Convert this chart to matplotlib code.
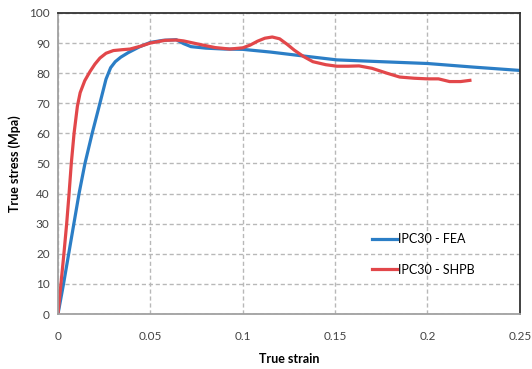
import matplotlib
matplotlib.use('Agg')
import matplotlib.pyplot as plt

# IPC30 - FEA (blue)
fea_strain = [0, 0.003, 0.0114, 0.0146, 0.0185, 0.0227, 0.026, 0.0285, 0.031, 0.034,
              0.038, 0.044, 0.05, 0.057, 0.064, 0.068, 0.072, 0.08, 0.09, 0.1,
              0.115, 0.13, 0.151, 0.175, 0.2, 0.225, 0.25]
fea_stress = [0, 10, 40, 50, 60, 70, 78, 81.8, 83.8, 85.3,
              86.8, 88.7, 90.2, 90.9, 91.1, 89.8, 88.8, 88.3, 88.0, 87.9,
              87.0, 85.9, 84.4, 83.8, 83.2, 82.0, 80.9]

# IPC30 - SHPB (red)
shpb_strain = [0, 0.0016, 0.0032, 0.0047, 0.006, 0.0072, 0.0087, 0.0105, 0.012, 0.0145,
               0.0173, 0.02, 0.0227, 0.026, 0.03, 0.035, 0.039, 0.045, 0.05, 0.058,
               0.064, 0.068, 0.077, 0.085, 0.093, 0.1, 0.104, 0.108, 0.112, 0.116,
               0.12, 0.124, 0.128, 0.133, 0.138, 0.145, 0.151, 0.157, 0.163, 0.17,
               0.178, 0.185, 0.193, 0.2, 0.206, 0.212, 0.218, 0.223]
shpb_stress = [0, 10, 20, 30, 40, 50, 60, 69, 73.5, 77.5,
               80.5, 83, 85, 86.6, 87.5, 87.8, 88.0, 89.0, 90.0, 90.9,
               91.0, 90.7, 89.5, 88.5, 88.0, 88.4, 89.3, 90.6, 91.6, 92.0,
               91.4, 89.6, 87.6, 85.5, 83.8, 82.8, 82.3, 82.3, 82.4, 81.6,
               80.0, 78.7, 78.3, 78.1, 78.1, 77.2, 77.2, 77.6]

x_ticks = [0, 0.05, 0.1, 0.15, 0.2, 0.25]
x_tick_labels = ['0', '0.05', '0.1', '0.15', '0.2', '0.25']
y_ticks = [0, 10, 20, 30, 40, 50, 60, 70, 80, 90, 100]

plt.rcParams['font.family'] = ['Lato', 'DejaVu Sans']

fig = plt.figure(figsize=(5.32, 3.69), dpi=100)
ax = fig.add_axes([0.109, 0.149, 0.868, 0.816])

ax.plot(fea_strain, fea_stress, color='#2b7ec6', linewidth=2.3, label='IPC30 - FEA')
ax.plot(shpb_strain, shpb_stress, color='#e2474a', linewidth=2.3, label='IPC30 - SHPB')

ax.set_xlim(0, 0.25)
ax.set_ylim(0, 100)
ax.set_xticks(x_ticks)
ax.set_xticklabels(x_tick_labels)
ax.set_yticks(y_ticks)
ax.tick_params(axis='both', length=0, labelsize=8.5, labelcolor='#444444')
ax.tick_params(axis='x', pad=12)
ax.tick_params(axis='y', pad=6)

ax.grid(True, color='#b8b8b8', linestyle=(0, (3, 2)), linewidth=1.0)

ax.spines['left'].set_color('#a0a0a0')
ax.spines['bottom'].set_color('#a0a0a0')
ax.spines['top'].set_color('#333333')
ax.spines['right'].set_color('#333333')
for s in ax.spines.values():
    s.set_linewidth(1.3)

ax.set_xlabel('True strain', fontsize=9, fontweight='bold', labelpad=8)
ax.set_ylabel('True stress (Mpa)', fontsize=9, fontweight='bold', labelpad=6)

ax.legend(loc='upper left', bbox_to_anchor=(0.655, 0.305), frameon=False,
          fontsize=9, handlelength=2.0, handletextpad=0.1, labelspacing=1.45)

fig.savefig('out.png', dpi=100)
